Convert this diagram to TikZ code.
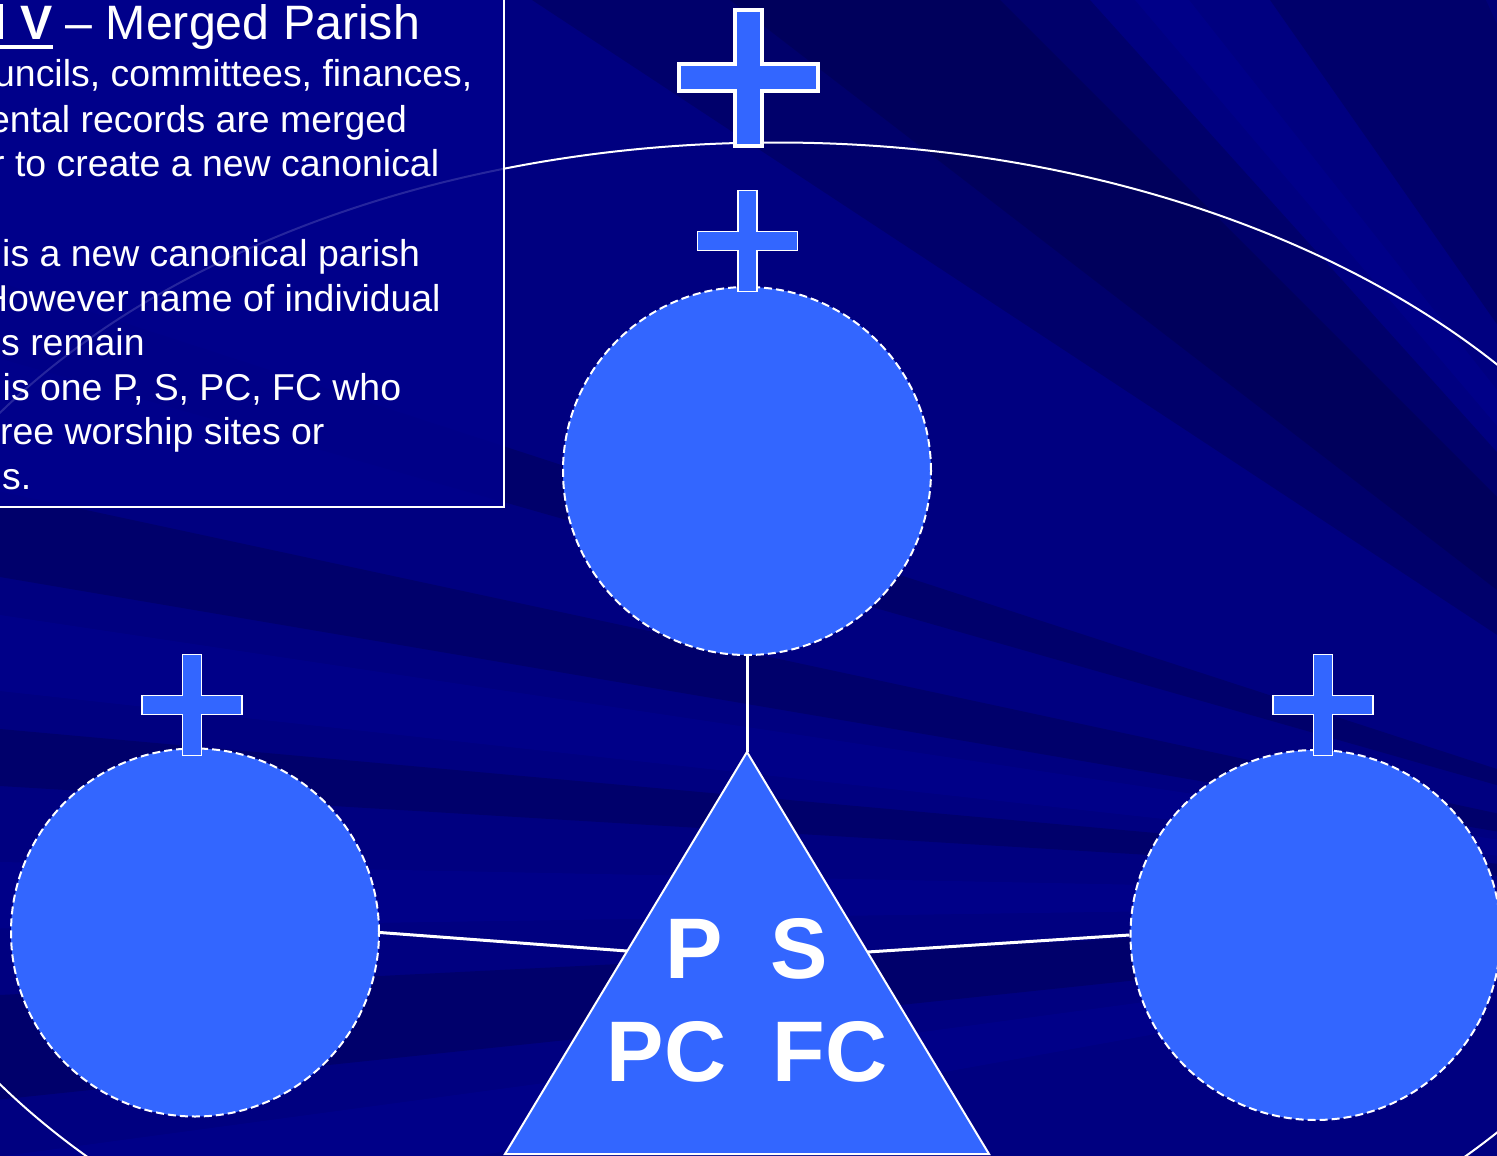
\documentclass[tikz,border=0pt]{standalone}
\usepackage{fontspec}
\setmainfont{Liberation Sans}
\definecolor{bgbase}{RGB}{0,0,128}
\definecolor{bgdark}{RGB}{0,0,60}
\definecolor{bglight}{RGB}{0,0,170}
\definecolor{boxblue}{RGB}{0,0,140}
\definecolor{shapeblue}{RGB}{51,102,255}
\tikzset{
  parish/.style={circle, fill=shapeblue, draw=white, line width=2pt, dash pattern=on 8pt off 4pt, minimum size=368pt, inner sep=0pt},
  link/.style={draw=white, line width=3pt},
  txt/.style={text=white, inner sep=0pt, anchor=base west, font=\fontsize{37.4}{44.7}\selectfont},
  bigtxt/.style={text=white, inner sep=0pt, anchor=base west, font=\bfseries\fontsize{86}{100}\selectfont},
  darkray/.style={fill=bgdark, opacity=0.3},
  lightray/.style={fill=bglight, opacity=0.2},
  smallcross/.pic={\path[fill=shapeblue, draw=white, line width=1.5pt]
    (-9.5,0) -- (9.5,0) -- (9.5,41) -- (50,41) -- (50,60) -- (9.5,60) -- (9.5,101)
    -- (-9.5,101) -- (-9.5,60) -- (-50,60) -- (-50,41) -- (-9.5,41) -- cycle;},
  bigcross/.pic={\path[fill=shapeblue, draw=white, line width=3.5pt, line join=miter]
    (-13.5,0) -- (13.5,0) -- (13.5,54) -- (69.5,54) -- (69.5,81) -- (13.5,81) -- (13.5,136)
    -- (-13.5,136) -- (-13.5,81) -- (-69.5,81) -- (-69.5,54) -- (-13.5,54) -- cycle;},
}
\begin{document}
\begin{tikzpicture}[x=1pt,y=-1pt]
\useasboundingbox (0,0) rectangle (1497,1156);
\clip (0,0) rectangle (1497,1156);
% background
\fill[bgbase] (0,0) rectangle (1497,1156);
\coordinate (O) at (1900,900);
\fill[darkray] (O) -- (380,-100) -- (1000,-100) -- cycle;
\fill[darkray] (O) -- (600,-100) -- (900,-100) -- cycle;
\fill[lightray] (O) -- (1050,-100) -- (1110,-100) -- cycle;
\fill[darkray] (O) -- (1200,-100) -- (1700,-100) -- cycle;
\fill[lightray] (O) -- (1440,-100) -- (1500,-100) -- cycle;
\fill[darkray] (O) -- (-100,250) -- (-100,330) -- cycle;
\fill[darkray] (O) -- (-100,470) -- (-100,560) -- cycle;
\fill[lightray] (O) -- (-100,600) -- (-100,680) -- cycle;
\fill[darkray] (O) -- (-100,720) -- (-100,780) -- cycle;
\fill[lightray] (O) -- (-100,860) -- (-100,930) -- cycle;
\fill[darkray] (O) -- (-100,1000) -- (-100,1110) -- cycle;
\fill[lightray] (O) -- (-100,1170) -- (-100,1260) -- cycle;
% big ellipse
\draw[white, line width=2pt] (776,748.5) ellipse [x radius=932, y radius=606];
% text box
\node[draw=white, line width=2pt, fill=boxblue, fill opacity=0.85, inner sep=0pt,
      minimum width=540pt, minimum height=540pt, anchor=south east] (box) at (505,508) {};
\node[txt, font=\fontsize{48.3}{58}\selectfont] (title) at (-7,40) {\textbf{l V} – Merged Parish};
\fill[white] (0,45) rectangle (53,49.5);
\node[txt] (l1) at (-6,87) {uncils, committees, finances,};
\node[txt] (l2) at (-11,132) {ental records are merged};
\node[txt] (l3) at (-8,176) {r to create a new canonical};
\node[txt] (l4) at (2,266) {is a new canonical parish};
\node[txt] (l5) at (-19,311) {However name of individual};
\node[txt] (l6) at (1,355) {s remain};
\node[txt] (l7) at (2.5,400) {is one P, S, PC, FC who};
\node[txt] (l8) at (0,444) {ree worship sites or};
\node[txt] (l9) at (2,489) {s.};
% parishes
\node[parish] (cT) at (747,471) {};
\node[parish] (cL) at (195,932.5) {};
\node[parish, minimum size=370pt] (cR) at (1315.5,935) {};
% triangle
\coordinate (tA) at (747,752);
\coordinate (tBL) at (505,1154);
\coordinate (tBR) at (989,1154);
\coordinate (tL) at (627,951);
\coordinate (tR) at (867.5,952);
\draw[link] (cT.south) -- (tA);
\draw[link] (cL.east) -- (tL);
\draw[link] (tR) -- (cR.west);
\draw[fill=shapeblue, draw=white, line width=2pt] (tA) -- (tBL) -- (tBR) -- cycle;
\node[bigtxt] (tP) at (665.5,978) {P};
\node[bigtxt] (tS) at (770,978) {S};
\node[bigtxt] (tPC) at (606.5,1081) {PC};
\node[bigtxt] (tFC) at (772.5,1081) {FC};
% crosses
\pic at (748.5,10) {bigcross};
\pic at (747.5,190.5) {smallcross};
\pic at (192,654.5) {smallcross};
\pic at (1323,654.5) {smallcross};
\end{tikzpicture}
\end{document}
